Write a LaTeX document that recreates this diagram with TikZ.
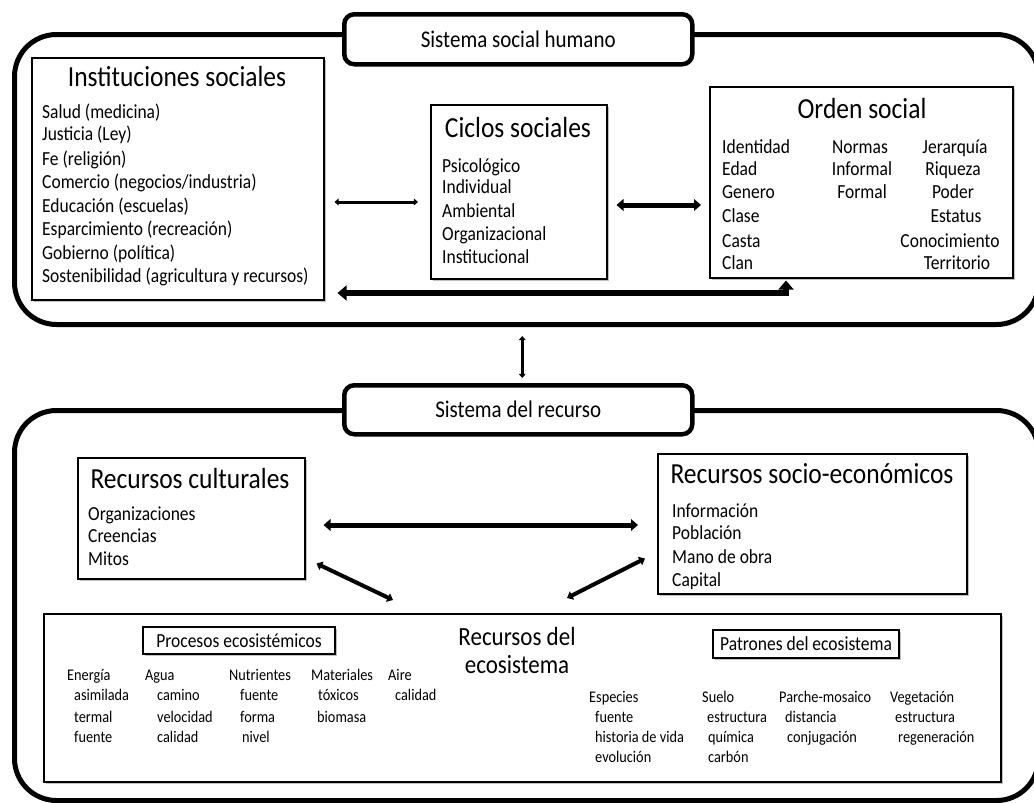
\documentclass[tikz,border=0pt]{standalone}
\usepackage{fontspec}
\usepackage{graphicx}
\setmainfont{Carlito}
\usetikzlibrary{arrows.meta,shadows,calc}
\newsavebox{\stretchbox}
\tikzset{
  tall/.style={execute at begin node={\begin{lrbox}{\stretchbox}}, execute at end node={\end{lrbox}\scalebox{1}[1.14]{\usebox{\stretchbox}}}},
  sysframe/.style={draw, line width=5pt, rounded corners=42pt, anchor=north west, inner sep=0pt},
  titlebox/.style={draw, fill=white, line width=4.5pt, rounded corners=10pt, anchor=north west, inner sep=0pt, tall, font=\fontsize{21}{24}\selectfont},
  stepbox/.style={draw, fill=white, line width=1.5pt, anchor=north west, inner sep=0pt,
    drop shadow={shadow xshift=2pt, shadow yshift=-2pt, opacity=0.25, fill=black}},
  subbox/.style={draw, fill=white, line width=1.2pt, inner sep=0pt, tall, font=\fontsize{17.5}{20}\selectfont,
    drop shadow={shadow xshift=1.5pt, shadow yshift=-1.5pt, opacity=0.25, fill=black}},
  headt/.style={anchor=base, inner sep=0pt, tall, font=\fontsize{25.5}{28}\selectfont},
  bodyt/.style={anchor=base west, inner sep=0pt, tall, font=\fontsize{17.5}{20}\selectfont},
  bodyc/.style={anchor=base, inner sep=0pt, tall, font=\fontsize{17.5}{20}\selectfont},
  smallt/.style={anchor=base west, inner sep=0pt, tall, font=\fontsize{14.3}{16}\selectfont},
  dbl/.style={line width=#1, {Triangle[length=0pt 1.4, width=0pt 2.3]}-{Triangle[length=0pt 1.4, width=0pt 2.3]}},
}
\begin{document}
\begin{tikzpicture}[x=1pt, y=-1pt]
\useasboundingbox[fill=white] (0,0) rectangle (1034,803);

% ---------- upper system ----------
\node[sysframe, minimum width=1024, minimum height=290] (sys1) at (12,32) {};
\node[titlebox, minimum width=348, minimum height=50] (title1) at (342,12) {Sistema social humano};

\node[stepbox, minimum width=292, minimum height=242] (inst) at (31,57) {};
\node[headt] (instH) at (177,86) {Instituciones sociales};
\node[bodyt] (i1) at (42,118) {Salud (medicina)};
\node[bodyt] (i2) at (42,140) {Justicia (Ley)};
\node[bodyt] (i3) at (42,165) {Fe (religión)};
\node[bodyt] (i4) at (42,188) {Comercio (negocios/industria)};
\node[bodyt] (i5) at (42,212) {Educación (escuelas)};
\node[bodyt] (i6) at (42,235) {Esparcimiento (recreación)};
\node[bodyt] (i7) at (42,259) {Gobierno (política)};
\node[bodyt] (i8) at (42,282) {Sostenibilidad (agricultura y recursos)};

\node[stepbox, minimum width=176, minimum height=174] (ciclos) at (430,104) {};
\node[headt] (ciclosH) at (518,137) {Ciclos sociales};
\node[bodyt] (c1) at (442,172) {Psicológico};
\node[bodyt] (c2) at (442,193) {Individual};
\node[bodyt] (c3) at (442,217) {Ambiental};
\node[bodyt] (c4) at (442,240) {Organizacional};
\node[bodyt] (c5) at (442,263) {Institucional};

\node[stepbox, minimum width=303, minimum height=191] (orden) at (709,86) {};
\node[headt] (ordenH) at (862,118) {Orden social};
\node[bodyt] (o1) at (722,153) {Identidad};
\node[bodyt] (o2) at (722,175) {Edad};
\node[bodyt] (o3) at (722,198) {Genero};
\node[bodyt] (o4) at (722,222) {Clase};
\node[bodyt] (o5) at (722,247) {Casta};
\node[bodyt] (o6) at (722,269) {Clan};
\node[bodyc] (n1) at (860,153) {Normas};
\node[bodyc] (n2) at (862,175) {Informal};
\node[bodyc] (n3) at (862,198) {Formal};
\node[bodyc] (j1) at (955,153) {Jerarquía};
\node[bodyc] (j2) at (953,175) {Riqueza};
\node[bodyc] (j3) at (953,198) {Poder};
\node[bodyc] (j4) at (956,222) {Estatus};
\node[bodyc] (j5) at (950,247) {Conocimiento};
\node[bodyc] (j6) at (957,269) {Territorio};

\draw[dbl=3] ($(inst.east |- 0,202)+(10,0)$) -- ($(ciclos.west |- 0,202)+(-12,0)$);
\draw[dbl=5] ($(ciclos.east |- 0,205)+(9,0)$) -- ($(orden.west |- 0,205)+(-8,0)$);
\draw[dbl=6.5] ($(inst.east |- 0,293)+(13,0)$) -| ($(orden.south -| 786,0)+(0,2)$);

% ---------- lower system ----------
\node[sysframe, minimum width=1024, minimum height=390] (sys2) at (12,408) {};
\node[titlebox, minimum width=348, minimum height=49] (title2) at (342,383) {Sistema del recurso};

\draw[dbl=3] ($(title2.north |- sys1.south)+(4,9)$) -- ($(title2.north)+(4,-5)$);

\node[stepbox, minimum width=227, minimum height=121] (cult) at (77,457) {};
\node[headt] (cultH) at (190,488) {Recursos culturales};
\node[bodyt] (r1) at (88,520) {Organizaciones};
\node[bodyt] (r2) at (88,542) {Creencias};
\node[bodyt] (r3) at (88,565) {Mitos};

\node[stepbox, minimum width=309, minimum height=140] (socio) at (657,453) {};
\node[headt] (socioH) at (812,483) {Recursos socio-económicos};
\node[bodyt] (s1) at (672,517) {Información};
\node[bodyt] (s2) at (672,539) {Población};
\node[bodyt] (s3) at (672,563) {Mano de obra};
\node[bodyt] (s4) at (672,586) {Capital};

\node[stepbox, minimum width=957, minimum height=168] (eco) at (43,613) {};
\node[headt, font=\fontsize{23}{26}\selectfont] (ecoH1) at (517,645) {Recursos del};
\node[headt, font=\fontsize{23}{26}\selectfont] (ecoH2) at (517,673) {ecosistema};

\draw[dbl=5] ($(cult.east |- 0,525)+(18,0)$) -- ($(socio.west |- 0,525)+(-19,0)$);
\draw[dbl=4] ($(cult.south east)+(11,-16)$) -- ($(eco.north west)+(350,-13)$);
\draw[dbl=4] ($(socio.south west)+(-12,-36)$) -- ($(eco.north west)+(524,-15)$);

\node[subbox, minimum width=192, minimum height=27] (proc) at (239,640.5) {Procesos ecosistémicos};
\node[subbox, minimum width=186, minimum height=28] (patr) at (806,644) {Patrones del ecosistema};

% processes
\node[smallt] (p11) at (67,680) {Energía};
\node[smallt] (p12) at (74,700) {asimilada};
\node[smallt] (p13) at (74,722) {termal};
\node[smallt] (p14) at (74,742) {fuente};
\node[smallt] (p21) at (145,680) {Agua};
\node[smallt] (p22) at (157,700) {camino};
\node[smallt] (p23) at (157,722) {velocidad};
\node[smallt] (p24) at (157,742) {calidad};
\node[smallt] (p31) at (229,680) {Nutrientes};
\node[smallt] (p32) at (240,700) {fuente};
\node[smallt] (p33) at (240,722) {forma};
\node[smallt] (p34) at (242,742) {nivel};
\node[smallt] (p41) at (311,680) {Materiales};
\node[smallt] (p42) at (318,700) {tóxicos};
\node[smallt] (p43) at (317,722) {biomasa};
\node[smallt] (p51) at (388,680) {Aire};
\node[smallt] (p52) at (395,700) {calidad};

% patterns
\node[smallt] (q11) at (589,702) {Especies};
\node[smallt] (q12) at (595,722) {fuente};
\node[smallt] (q13) at (595,742) {historia de vida};
\node[smallt] (q14) at (595,762) {evolución};
\node[smallt] (q21) at (702,702) {Suelo};
\node[smallt] (q22) at (707,722) {estructura};
\node[smallt] (q23) at (708,742) {química};
\node[smallt] (q24) at (708,762) {carbón};
\node[smallt] (q31) at (779,702) {Parche-mosaico};
\node[smallt] (q32) at (785,722) {distancia};
\node[smallt] (q33) at (787,742) {conjugación};
\node[smallt] (q41) at (890,702) {Vegetación};
\node[smallt] (q42) at (895,722) {estructura};
\node[smallt] (q43) at (898,742) {regeneración};
\end{tikzpicture}
\end{document}
